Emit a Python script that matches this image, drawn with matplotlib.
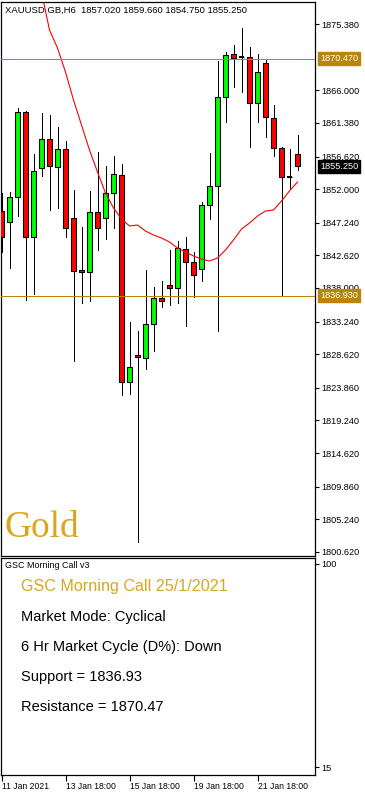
import numpy as np
import matplotlib
matplotlib.use("Agg")
import matplotlib.pyplot as plt

# XAUUSD H6 candles
opens = [1848.90, 1847.34, 1850.89, 1862.92, 1845.22, 1854.99, 1859.10, 1855.13, 1857.68, 1847.91,
         1840.55, 1840.27, 1848.76, 1847.91, 1851.45, 1854.00, 1824.69, 1828.51, 1828.09, 1832.90,
         1836.58, 1838.42, 1838.00, 1843.52, 1841.68, 1840.69, 1849.75, 1852.44, 1865.04, 1871.13,
         1870.71, 1870.71, 1864.19, 1869.86, 1862.07, 1857.82, 1853.72, 1857.02]
highs = [1851.45, 1851.59, 1863.49, 1863.05, 1856.97, 1862.78, 1862.49, 1860.79, 1858.81, 1851.88,
         1846.64, 1851.74, 1857.26, 1855.28, 1856.69, 1855.56, 1833.19, 1831.91, 1840.55, 1838.14,
         1838.99, 1843.38, 1844.65, 1845.22, 1843.10, 1850.18, 1857.11, 1870.14, 1871.42, 1872.41,
         1874.81, 1872.12, 1871.13, 1870.47, 1863.91, 1857.96, 1857.68, 1859.66]
lows = [1843.10, 1840.83, 1848.19, 1836.30, 1837.15, 1853.86, 1849.04, 1849.33, 1845.22, 1827.66,
        1835.88, 1836.16, 1843.38, 1844.94, 1846.49, 1822.85, 1822.99, 1802.04, 1826.53, 1829.08,
        1835.31, 1835.59, 1835.88, 1832.62, 1836.73, 1838.99, 1847.77, 1831.91, 1861.50, 1866.46,
        1865.75, 1857.96, 1861.50, 1859.38, 1856.69, 1836.93, 1852.16, 1854.75]
closes = [1845.22, 1850.89, 1862.92, 1845.22, 1854.57, 1859.10, 1855.28, 1857.68, 1846.49, 1840.41,
          1840.27, 1848.76, 1846.49, 1851.45, 1854.14, 1824.69, 1826.81, 1828.23, 1832.90, 1836.58,
          1836.16, 1838.00, 1843.66, 1841.68, 1839.84, 1849.75, 1852.44, 1865.04, 1870.99, 1870.57,
          1870.71, 1864.19, 1868.58, 1862.21, 1857.82, 1853.72, 1853.72, 1855.25]

# moving average, starts at bar 5
ma_start = 5
ma_vals = [1879.91, 1874.53, 1871.98, 1868.58, 1864.62, 1861.08, 1857.54, 1854.42, 1851.45, 1849.33,
           1847.77, 1846.78, 1846.92, 1846.07, 1845.50, 1845.08, 1844.51, 1843.66, 1843.10, 1842.53,
           1842.11, 1841.82, 1842.25, 1843.38, 1844.80, 1846.35, 1847.20, 1848.19, 1848.90, 1849.04,
           1850.32, 1851.74, 1853.01]

support = 1836.93
resistance = 1870.47

price_ticks = [1875.38, 1866.00, 1861.38, 1856.62, 1852.00, 1847.24, 1842.62, 1838.00, 1833.24,
               1828.62, 1823.86, 1819.24, 1814.62, 1809.86, 1805.24, 1800.62]
date_pos = [0, 8, 16, 24, 32]
date_labels = ["11 Jan 2021", "13 Jan 18:00", "15 Jan 18:00", "19 Jan 18:00", "21 Jan 18:00"]
panel_ticks = [100, 15]

info_title = "GSC Morning Call 25/1/2021"
info_lines = ["Market Mode: Cyclical", "6 Hr Market Cycle (D%): Down",
              f"Support = {support:.2f}", f"Resistance = {resistance:.2f}"]

W, H = 365, 792
PX = 0.72  # one pixel in points
line_gold = "#B8860B"
text_gold = "#DAA520"

plt.rcParams["font.family"] = ["Liberation Sans", "DejaVu Sans"]

fig = plt.figure(figsize=(W / 100, H / 100), dpi=100)
fig.patch.set_facecolor("white")


def fx(px):
    return px / W


def fy(py):
    return 1 - py / H


# main price panel
ax = fig.add_axes([fx(0.5), fy(555.5), fx(314), (555.5 - 1.5) / H])
x = np.arange(len(opens))
o = np.array(opens)
c = np.array(closes)
ax.vlines(x, lows, highs, color="black", lw=PX, zorder=2, antialiased=False)
cols = np.where(c > o, "#00FF00", "#FF0000")
ax.bar(x, c - o, bottom=o, width=0.6, color=cols, edgecolor="black", lw=0.8, zorder=3)
doji = c == o
ax.hlines(o[doji], x[doji] - 0.3, x[doji] + 0.3, color="black", lw=1.4, zorder=3)

xm = np.arange(ma_start, ma_start + len(ma_vals))
ax.plot(xm, ma_vals, color="#FF0000", lw=0.8, zorder=4)

ax.axhline(support, color=line_gold, lw=PX, zorder=5, antialiased=False)
ax.axhline(resistance, color=line_gold, lw=PX, zorder=5, antialiased=False)

ax.set_xlim(-0.125, 39.125)
ax.set_ylim(1800.12, 1878.57)
ax.set_xticks([])
ax.yaxis.tick_right()
ax.set_yticks(price_ticks)
ax.set_yticklabels([f"{v:.3f}" for v in price_ticks])
ax.tick_params(axis="y", length=3, width=0.8, pad=2, labelsize=6.6, direction="out")
for s in ax.spines.values():
    s.set_linewidth(0.9)

for val, bg in [(resistance, line_gold), (support, line_gold), (closes[-1], "black")]:
    ax.annotate(f"{val:.3f}", xy=(1.0, val), xycoords=("axes fraction", "data"),
                xytext=(4, 0), textcoords="offset points", ha="left", va="center",
                fontsize=6.6, color="white", annotation_clip=False, zorder=10,
                bbox=dict(boxstyle="square,pad=0.2", fc=bg, ec=bg))

hdr = "XAUUSD GB,H6  " + " ".join(f"{v:.3f}" for v in (opens[-1], highs[-1], lows[-1], closes[-1]))
fig.text(fx(5), fy(10), hdr, fontsize=6.8, ha="left", va="center", color="black")
fig.text(fx(5), fy(537), "Gold", fontsize=27, family="Liberation Serif", color=text_gold,
         ha="left", va="baseline")

# lower info panel
ax2 = fig.add_axes([fx(0.5), fy(774.5), fx(314), (774.5 - 557.5) / H])
ax2.set_xlim(-0.125, 39.125)
ax2.set_ylim(11.86, 102.72)
ax2.yaxis.tick_right()
ax2.set_yticks(panel_ticks)
ax2.set_yticklabels([str(v) for v in panel_ticks])
ax2.tick_params(axis="y", length=3, width=0.8, pad=2, labelsize=6.6)
ax2.set_xticks(date_pos)
ax2.set_xticklabels(date_labels, ha="left")
ax2.tick_params(axis="x", length=4, width=0.8, pad=1.5, labelsize=6.2)
for s in ax2.spines.values():
    s.set_linewidth(0.9)

fig.text(fx(5), fy(566), "GSC Morning Call v3", fontsize=6.4, ha="left", va="center")
fig.text(fx(21), fy(587), info_title, fontsize=11.6, color=text_gold, ha="left", va="center")
for i, t in enumerate(info_lines):
    fig.text(fx(21), fy(617 + 30 * i), t, fontsize=10.5, color="black", ha="left", va="center")

fig.savefig("out.png", dpi=100, facecolor="white")
